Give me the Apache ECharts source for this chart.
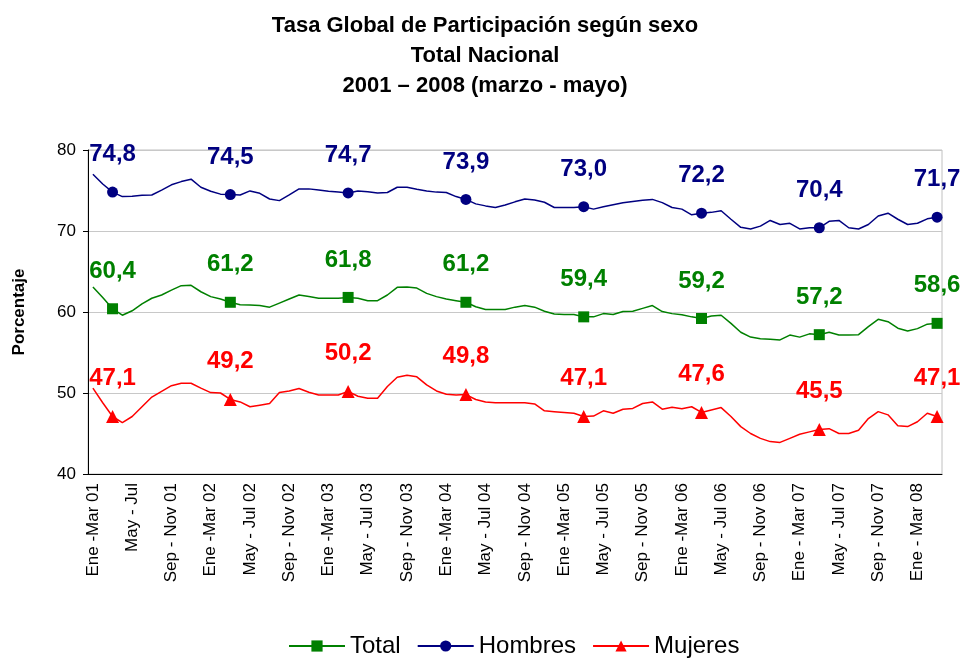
<!DOCTYPE html>
<html>
<head>
<meta charset="utf-8">
<script src="https://cdn.jsdelivr.net/npm/echarts@6/dist/echarts.min.js"></script>
<style>
  html, body { margin: 0; padding: 0; background: #fff; }
  #chart { width: 961px; height: 659px; }
</style>
</head>
<body>
<div id="chart"></div>
<script>
// trimestres móviles Ene-Mar 01 ... Mar-May 08
var meses = ['Ene', 'Feb', 'Mar', 'Abr', 'May', 'Jun', 'Jul', 'Ago', 'Sep', 'Oct', 'Nov', 'Dic'];
var tickLabels = [
    'Ene -Mar 01', 'May - Jul', 'Sep - Nov 01',
    'Ene -Mar 02', 'May - Jul 02', 'Sep - Nov 02',
    'Ene -Mar 03', 'May - Jul 03', 'Sep - Nov 03',
    'Ene -Mar 04', 'May - Jul 04', 'Sep - Nov 04',
    'Ene -Mar 05', 'May - Jul 05', 'Sep - Nov 05',
    'Ene -Mar 06', 'May - Jul 06', 'Sep - Nov 06',
    'Ene - Mar 07', 'May - Jul 07', 'Sep - Nov 07',
    'Ene - Mar 08'
];

var total = [
    63.1, 61.8, 60.4, 59.6, 60.15, 61.0, 61.7, 62.1, 62.7, 63.25, 63.3, 62.5,
    61.9, 61.6, 61.2, 60.9, 60.85, 60.8, 60.6, 61.1, 61.6, 62.1, 61.9, 61.7,
    61.7, 61.7, 61.8, 61.7, 61.4, 61.4, 62.1, 63.05, 63.1, 62.95, 62.3, 61.9,
    61.6, 61.4, 61.2, 60.65, 60.3, 60.3, 60.3, 60.6, 60.8, 60.6, 60.1, 59.75,
    59.7, 59.7, 59.4, 59.4, 59.8, 59.7, 60.05, 60.1, 60.45, 60.8, 60.05, 59.8,
    59.65, 59.4, 59.2, 59.5, 59.6, 58.6, 57.5, 56.9, 56.7, 56.65, 56.55, 57.15,
    56.9, 57.3, 57.2, 57.5, 57.15, 57.15, 57.2, 58.2, 59.1, 58.8, 58.0, 57.65,
    57.95, 58.5, 58.6
];
var hombres = [
    77.0, 75.8, 74.8, 74.25, 74.3, 74.4, 74.45, 75.05, 75.7, 76.1, 76.4, 75.4,
    74.9, 74.55, 74.5, 74.45, 74.95, 74.65, 73.95, 73.75, 74.45, 75.2, 75.2, 75.05,
    74.9, 74.8, 74.7, 74.95, 74.85, 74.7, 74.75, 75.4, 75.4, 75.15, 74.95, 74.8,
    74.75, 74.25, 73.9, 73.35, 73.1, 72.9, 73.2, 73.6, 73.95, 73.83, 73.55, 72.9,
    72.9, 72.9, 73.0, 72.7, 73.0, 73.25, 73.5, 73.65, 73.8, 73.9, 73.5, 72.9,
    72.7, 72.0, 72.2, 72.3, 72.5, 71.45, 70.45, 70.25, 70.6, 71.3, 70.8, 70.95,
    70.25, 70.4, 70.4, 71.2, 71.3, 70.4, 70.25, 70.8, 71.85, 72.2, 71.45, 70.8,
    70.95, 71.5, 71.7
];
var mujeres = [
    50.6, 48.8, 47.1, 46.35, 47.1, 48.3, 49.5, 50.2, 50.9, 51.2, 51.2, 50.6,
    50.05, 50.0, 49.2, 48.9, 48.3, 48.5, 48.7, 50.05, 50.25, 50.55, 50.1, 49.75,
    49.75, 49.75, 50.2, 49.6, 49.35, 49.35, 50.8, 51.95, 52.2, 52.0, 51.0, 50.25,
    49.85, 49.75, 49.8, 49.2, 48.9, 48.8, 48.8, 48.8, 48.8, 48.65, 47.8, 47.7,
    47.6, 47.5, 47.1, 47.15, 47.8, 47.5, 48.0, 48.1, 48.7, 48.9, 48.0, 48.25,
    48.05, 48.3, 47.6, 47.9, 48.2, 47.1, 45.85, 45.0, 44.4, 44.0, 43.9, 44.4,
    44.9, 45.2, 45.5, 45.6, 45.0, 45.0, 45.4, 46.85, 47.7, 47.3, 45.95, 45.85,
    46.45, 47.5, 47.1
];

// trimestre marzo-mayo de cada año (puntos con marcador y etiqueta)
var marcados = [2, 14, 26, 38, 50, 62, 74, 86];

var categorias = [];
for (var i = 0; i < total.length; i++) {
    var m = i % 12;
    var anio = 1 + Math.floor(i / 12);
    categorias.push(meses[m] + ' - ' + meses[(m + 2) % 12] + ' 0' + anio);
}

function serie(nombre, valores, color, simbolo, tam) {
    return {
        name: nombre,
        type: 'line',
        data: valores.map(function (v, idx) {
            var marca = marcados.indexOf(idx) >= 0;
            return { value: v, symbolSize: marca ? tam : 0, label: { show: marca } };
        }),
        symbol: simbolo,
        symbolSize: tam,
        showAllSymbol: true,
        color: color,
        lineStyle: { color: color, width: 1.5 },
        itemStyle: { color: color },
        label: {
            position: 'top',
            distance: 20,
            color: color,
            fontFamily: 'Arial',
            fontWeight: 'bold',
            fontSize: 24,
            formatter: function (p) { return p.value.toFixed(1).replace('.', ','); }
        },
        animation: false
    };
}

var myChart = echarts.init(document.getElementById('chart'));
var option = {
    backgroundColor: '#fff',
    title: {
        text: 'Tasa Global de Participación según sexo\nTotal Nacional\n2001 – 2008 (marzo - mayo)',
        left: 480,
        textAlign: 'center',
        top: 6,
        textStyle: { fontFamily: 'Arial', fontWeight: 'bold', fontSize: 22, lineHeight: 30, color: '#000' }
    },
    legend: {
        data: ['Total', 'Hombres', 'Mujeres'],
        left: 283,
        top: 629,
        itemWidth: 56,
        itemHeight: 14,
        itemGap: 16,
        textStyle: { fontFamily: 'Arial', fontSize: 24, color: '#000' }
    },
    grid: {
        left: 88, right: 19, top: 150, bottom: 185,
        show: true, borderColor: '#c0c0c0', borderWidth: 1
    },
    xAxis: {
        type: 'category',
        data: categorias,
        boundaryGap: true,
        axisLine: { lineStyle: { color: '#000', width: 1 } },
        axisTick: { interval: 0, length: 5, lineStyle: { color: '#000' } },
        axisLabel: {
            interval: 3,
            rotate: 90,
            margin: 9,
            fontFamily: 'Arial',
            fontSize: 17,
            color: '#000',
            formatter: function (v, idx) { return tickLabels[idx / 4] || ''; }
        }
    },
    yAxis: {
        type: 'value',
        min: 40,
        max: 80,
        interval: 10,
        name: 'Porcentaje',
        nameLocation: 'middle',
        nameGap: 60,
        nameTextStyle: { fontFamily: 'Arial', fontWeight: 'bold', fontSize: 17, color: '#000' },
        axisLine: { show: true, lineStyle: { color: '#000' } },
        axisTick: { show: true, length: 5, lineStyle: { color: '#000' } },
        axisLabel: { fontFamily: 'Arial', fontSize: 17, color: '#000', margin: 12 },
        splitLine: { lineStyle: { color: '#c8c8c8', width: 1 } }
    },
    series: [
        serie('Total', total, '#008000', 'rect', 11),
        serie('Hombres', hombres, '#000080', 'circle', 11),
        serie('Mujeres', mujeres, '#ff0000', 'triangle', 13)
    ]
};
myChart.setOption(option);
window.addEventListener('resize', function () {
    myChart.resize();
});
</script>
</body>
</html>
